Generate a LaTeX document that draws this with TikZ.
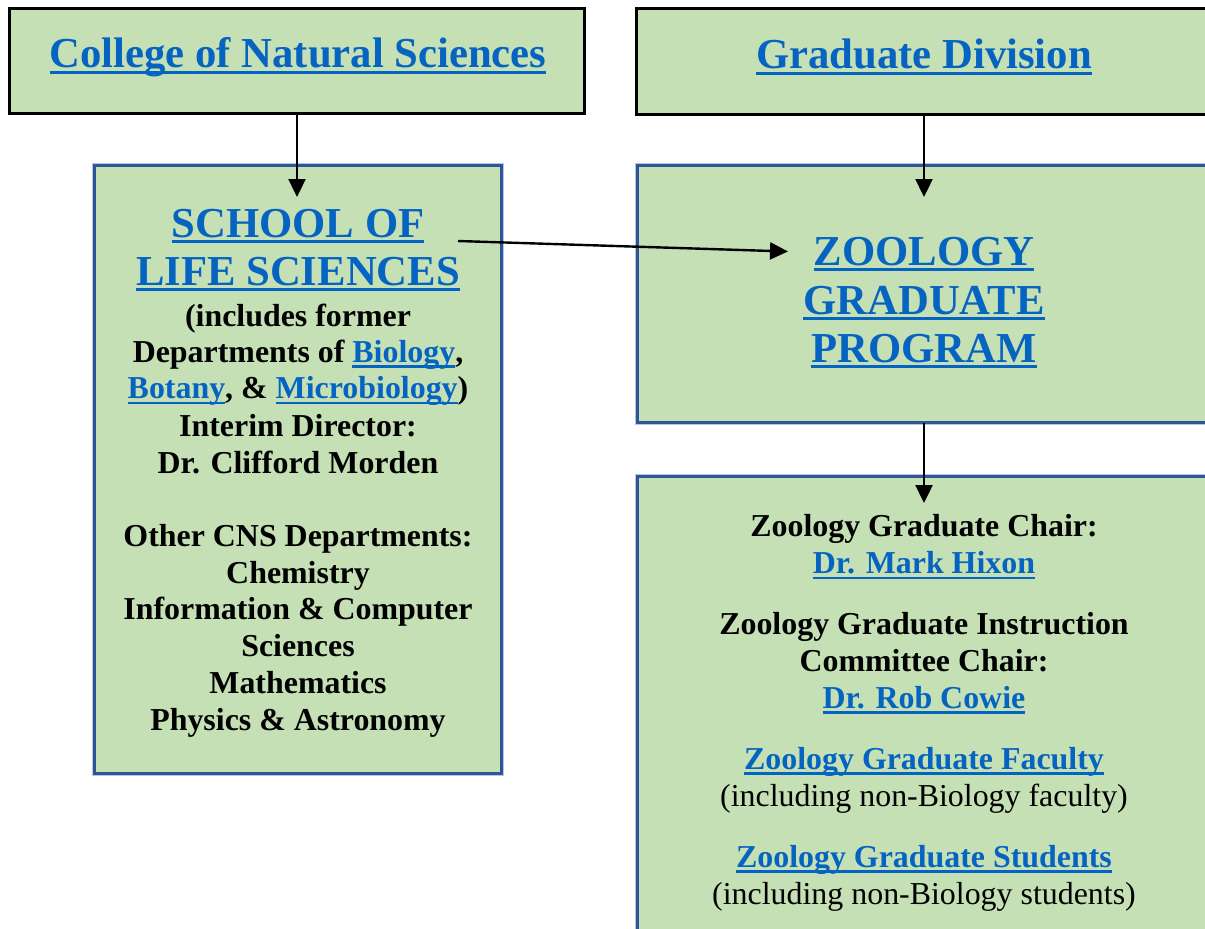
\documentclass[tikz,border=0pt]{standalone}
\usepackage{fontspec}
\setmainfont{Liberation Serif}
\usetikzlibrary{arrows.meta}
\definecolor{boxfill}{HTML}{C5E0B4}
\definecolor{linkblue}{HTML}{0563C1}
\definecolor{bordblue}{HTML}{2F5597}
\definecolor{halo}{HTML}{B4C7E7}
\newcommand\bigf{\fontsize{42.7}{48}\selectfont\bfseries}
\newcommand\medf{\fontsize{31.9}{37}\selectfont\bfseries}
\newcommand\regf{\fontsize{31.9}{37}\selectfont}
\newcommand\lkbig[1]{{\color{linkblue}\setbox0\hbox{#1}\rlap{\rule[-6pt]{\wd0}{3pt}}\box0}}
\newcommand\lk[1]{{\color{linkblue}\setbox0\hbox{#1}\rlap{\rule[-5.5pt]{\wd0}{2.5pt}}\box0}}
\begin{document}
\begin{tikzpicture}[x=1pt,y=-1pt,
  blackbox/.style={draw=black,line width=3pt,fill=boxfill,rectangle,inner sep=0pt,outer sep=0pt},
  bluebox/.style={draw=bordblue,line width=3pt,fill=boxfill,rectangle,inner sep=0pt,outer sep=0pt,
    preaction={draw=halo,line width=5pt}},
  big/.style={anchor=base,inner sep=0pt,font=\bigf},
  med/.style={anchor=base,inner sep=0pt,font=\medf},
  reg/.style={anchor=base,inner sep=0pt,font=\regf},
  arr/.style={line width=2.4pt,-{Triangle[length=18pt,width=17pt]}}]
\useasboundingbox (0,0) rectangle (1205,929);
\clip (0,0) rectangle (1205,929);
\fill[white] (0,0) rectangle (1205,929);
% boxes
\node[blackbox,minimum width=575,minimum height=105] (cns) at (297,61) {};
\node[blackbox,minimum width=575,minimum height=106] (gd) at (924,61.5) {};
\node[bluebox,minimum width=407,minimum height=608] (sls) at (298,469.5) {};
\node[bluebox,minimum width=573,minimum height=257] (zgp) at (924,294) {};
\node[bluebox,minimum width=573,minimum height=523.5] (staff) at (924,738.25) {};
% top titles
\node[big] (cnst) at (298,67.5) {\lkbig{College of Natural Sciences}};
\node[big] (gdt) at (924,68.5) {\lkbig{Graduate Division}};
% school box
\node[big] (sl1) at (298,237) {\lkbig{SCHOOL OF}};
\node[big] (sl2) at (298,285) {\lkbig{LIFE SCIENCES}};
\node[med] (sl3) at (298,326) {(includes former};
\node[med] (sl4) at (298,362) {Departments of \lk{Biology},};
\node[med] (sl5) at (298,398.5) {\lk{Botany}, \& \lk{Microbiology})};
\node[med] (sl6) at (298,436) {Interim Director:};
\node[med] (sl7) at (298,473) {Dr. Clifford Morden};
\node[med] (sl8) at (298,546) {Other CNS Departments:};
\node[med] (sl9) at (298,583) {Chemistry};
\node[med] (sl10) at (298,619.5) {Information \& Computer};
\node[med] (sl11) at (298,656.5) {Sciences};
\node[med] (sl12) at (298,693.5) {Mathematics};
\node[med] (sl13) at (298,730) {Physics \& Astronomy};
% zoology program
\node[big] (zg1) at (924,265) {\lkbig{ZOOLOGY}};
\node[big] (zg2) at (924,314) {\lkbig{GRADUATE}};
\node[big] (zg3) at (924,362) {\lkbig{PROGRAM}};
% staff box
\node[med] (st1) at (924,536) {Zoology Graduate Chair:};
\node[med] (st2) at (924,573.5) {\lk{Dr. Mark Hixon}};
\node[med] (st3) at (924,634) {Zoology Graduate Instruction};
\node[med] (st4) at (924,671) {Committee Chair:};
\node[med] (st5) at (924,708) {\lk{Dr. Rob Cowie}};
\node[med] (st6) at (924,769) {\lk{Zoology Graduate Faculty}};
\node[reg] (st7) at (924,806) {(including non-Biology faculty)};
\node[med] (st8) at (924,867) {\lk{Zoology Graduate Students}};
\node[reg] (st9) at (924,904) {(including non-Biology students)};
% connectors
\coordinate (a1) at (297,197);
\coordinate (a2) at (924,197);
\coordinate (a3s) at (458,241);
\coordinate (a3e) at (788,251.5);
\coordinate (a4) at (924,503);
\draw[arr] (cns.south) -- (a1);
\draw[arr] (gd.south) -- (a2);
\draw[arr] (a3s) -- (a3e);
\draw[arr] (zgp.south) -- (a4);
\end{tikzpicture}
\end{document}
